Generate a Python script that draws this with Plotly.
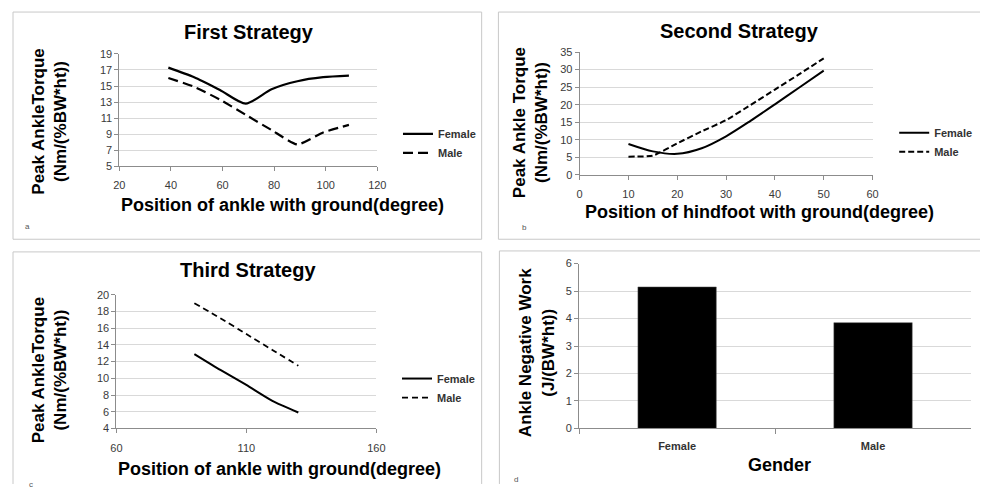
import plotly.graph_objects as go

# The page body has an 8px default margin; size the figure so the page fits the window exactly
PAGE_W, PAGE_H = 988, 497
OFF = 8
W, H = PAGE_W - 2 * OFF, PAGE_H - 2 * OFF

# ---------------- data ----------------
a_x = [39, 49, 59, 69, 79, 89, 99, 109]
a_female = [17.3, 16.1, 14.5, 12.8, 14.6, 15.6, 16.1, 16.3]
a_male = [16.0, 14.9, 13.3, 11.4, 9.5, 7.7, 9.2, 10.15]

b_x = [10, 15, 20, 25, 30, 35, 40, 45, 50]
b_female = [8.8, 6.7, 6.0, 7.6, 11.0, 15.4, 20.1, 24.9, 29.7]
b_male = [5.2, 5.5, 9.0, 12.4, 15.6, 19.9, 24.3, 28.7, 33.2]

c_x = [90, 100, 110, 120, 130]
c_female = [12.9, 11.0, 9.2, 7.3, 5.9]
c_male = [19.0, 17.2, 15.3, 13.4, 11.5]

d_categories = ["Female", "Male"]
d_values = [5.15, 3.85]

titles = ["First Strategy", "Second Strategy", "Third Strategy"]

FONT = "Liberation Sans, Arial, sans-serif"
TICKC = "#3a3a3a"
AXC = "#8c8c8c"
GRIDC = "#d9d9d9"


def px(x):
    return (x - OFF) / W


def py(y):
    return 1 - (y - OFF) / H


fig = go.Figure()

# Panel a
fig.add_trace(go.Scatter(x=a_x, y=a_female, name="Female", mode="lines",
                         line=dict(color="black", width=2.2, shape="spline", smoothing=0.7),
                         xaxis="x", yaxis="y", legend="legend"))
fig.add_trace(go.Scatter(x=a_x, y=a_male, name="Male", mode="lines",
                         line=dict(color="black", width=2.2, dash="10px,5px", shape="spline", smoothing=0.5),
                         xaxis="x", yaxis="y", legend="legend"))
# Panel b
fig.add_trace(go.Scatter(x=b_x, y=b_female, name="Female", mode="lines",
                         line=dict(color="black", width=2, shape="spline", smoothing=0.8),
                         xaxis="x2", yaxis="y2", legend="legend2"))
fig.add_trace(go.Scatter(x=b_x, y=b_male, name="Male", mode="lines",
                         line=dict(color="black", width=2, dash="6px,3px", shape="spline", smoothing=0.5),
                         xaxis="x2", yaxis="y2", legend="legend2"))
# Panel c
fig.add_trace(go.Scatter(x=c_x, y=c_female, name="Female", mode="lines",
                         line=dict(color="black", width=2, shape="spline", smoothing=0.6),
                         xaxis="x3", yaxis="y3", legend="legend3"))
fig.add_trace(go.Scatter(x=c_x, y=c_male, name="Male", mode="lines",
                         line=dict(color="black", width=1.8, dash="6px,4px", shape="spline", smoothing=0.6),
                         xaxis="x3", yaxis="y3", legend="legend3"))
# Panel d
fig.add_trace(go.Bar(x=d_categories, y=d_values, marker=dict(color="black", line=dict(color="#555", width=0.5)),
                     showlegend=False, xaxis="x4", yaxis="y4"))

tickfont = dict(family=FONT, size=11, color=TICKC)


def xax(dom_px, yanchor, **kw):
    d = dict(domain=[px(dom_px[0]), px(dom_px[1])], anchor=yanchor, showline=True, linecolor=AXC,
             linewidth=1, showgrid=False, zeroline=False, ticks="outside", ticklen=4,
             tickcolor=AXC, tickfont=tickfont, ticklabelstandoff=5)
    d.update(kw)
    return d


def yax(dom_px, xanchor, **kw):
    d = dict(domain=[py(dom_px[1]), py(dom_px[0])], anchor=xanchor, showline=True, linecolor=AXC,
             linewidth=1, showgrid=True, gridcolor=GRIDC, gridwidth=1, zeroline=False,
             ticks="outside", ticklen=4, tickcolor=AXC, tickfont=tickfont)
    d.update(kw)
    return d


legend_common = dict(bgcolor="rgba(0,0,0,0)", font=dict(family=FONT, size=11, color="#333", weight="bold"),
                     itemwidth=30, xanchor="left", yanchor="top", tracegroupgap=0)

fig.update_layout(
    width=W, height=H,
    margin=dict(l=0, r=0, t=0, b=0),
    paper_bgcolor="white", plot_bgcolor="white",
    xaxis=xax((115, 377), "y", range=[20, 120], tick0=20, dtick=20),
    yaxis=yax((49, 164), "x", range=[5, 19], tick0=5, dtick=2),
    xaxis2=xax((582.5, 880), "y2", range=[0, 60], tick0=0, dtick=10),
    yaxis2=yax((47, 173), "x2", range=[0, 35], tick0=0, dtick=5),
    xaxis3=xax((112, 376), "y3", range=[60, 160], tick0=60, dtick=50),
    yaxis3=yax((296, 433), "x3", range=[4, 20], tick0=4, dtick=2),
    xaxis4=xax((582, 980), "y4", tickson="boundaries", ticklen=5,
               tickfont=dict(family=FONT, size=11, color="#333", weight="bold"), ticklabelstandoff=7),
    yaxis4=yax((264, 433), "x4", range=[0, 6], tick0=0, dtick=1),
    bargap=0.6,
    legend=dict(x=px(398), y=py(116), **legend_common),
    legend2=dict(x=px(902), y=py(115), **legend_common),
    legend3=dict(x=px(397), y=py(367), **legend_common),
)

# panel borders (only the edges that are visible in the window)
shapes = []
segments = [
    # panel a: full box
    (7, 6, 483, 6), (7, 239, 483, 239), (7, 6, 7, 239), (483, 6, 483, 239),
    # panel b: top, bottom, left
    (500, 6, 990, 6), (500, 239, 990, 239), (500, 6, 500, 239),
    # panel c: top, left, right
    (7, 252, 483, 252), (7, 252, 7, 490), (483, 252, 483, 490),
    # panel d: top, left
    (501, 251, 990, 251), (501, 251, 501, 490),
]
for (x0, y0, x1, y1) in segments:
    shapes.append(dict(type="line", xref="paper", yref="paper", x0=px(x0), x1=px(x1), y0=py(y0), y1=py(y1),
                       line=dict(color="#c8c8c8", width=1), layer="below"))
fig.update_layout(shapes=shapes)

ann = []


def text(x, y, s, size, angle=0, bold=True, color="black"):
    ann.append(dict(x=px(x), y=py(y), xref="paper", yref="paper", text=s, showarrow=False,
                    textangle=angle, xanchor="center", yanchor="middle",
                    font=dict(family=FONT, size=size, color=color, weight="bold" if bold else "normal")))


# titles
text(247, 26, titles[0], 20)
text(745, 25, titles[1], 20)
text(246, 271, titles[2], 20)

# y titles
text(44, 118, "Peak AnkleTorque<br>(Nm/(%BW*ht))", 17, angle=-90)
text(532, 119, "Peak Ankle Torque<br>(Nm/(%BW*ht))", 17, angle=-90)
text(44, 373, "Peak AnkleTorque<br>(Nm/(%BW*ht))", 17, angle=-90)
text(539, 355, "Ankle Negative Work<br>(J/(BW*ht))", 17, angle=-90)

# x titles
text(281, 204, "Position of ankle with ground(degree)", 18)
text(765, 211, "Position of hindfoot with ground(degree)", 18)
text(278, 475, "Position of ankle with ground(degree)", 18)
text(786, 471, "Gender", 18)

# panel letters
text(22, 226, "a", 8, bold=False, color="#555")
text(527, 227, "b", 8, bold=False, color="#555")
text(25, 491, "c", 8, bold=False, color="#555")
text(518, 485, "d", 8, bold=False, color="#555")

fig.update_layout(annotations=ann)

fig.write_html("out.html")
